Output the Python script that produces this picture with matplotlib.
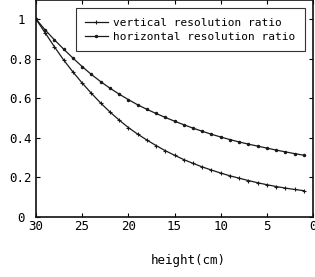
import numpy as np
from matplotlib import pyplot as plt

# heights (cm)
height = list(range(30, 0, -1))

vertical_ratio = [1.000, 0.930, 0.860, 0.793, 0.733, 0.677, 0.625, 0.576, 0.531, 0.490,
                  0.452, 0.419, 0.389, 0.361, 0.335, 0.312, 0.290, 0.271, 0.253, 0.237,
                  0.222, 0.208, 0.196, 0.184, 0.173, 0.163, 0.154, 0.146, 0.139, 0.133]

horizontal_ratio = [1.000, 0.945, 0.895, 0.848, 0.803, 0.760, 0.720, 0.684, 0.651, 0.621,
                    0.593, 0.567, 0.544, 0.523, 0.503, 0.484, 0.466, 0.449, 0.433, 0.418,
                    0.404, 0.391, 0.379, 0.368, 0.358, 0.348, 0.338, 0.329, 0.320, 0.312]

x_ticks = [30, 25, 20, 15, 10, 5, 0]
y_ticks = [0, 0.2, 0.4, 0.6, 0.8, 1]
y_labels = ["0", "0.2", "0.4", "0.6", "0.8", "1"]

plt.rcParams['font.family'] = ['DejaVu Sans Mono']

fig = plt.figure(figsize=(3.15, 2.77), dpi=100)
ax = fig.add_axes([0.114, 0.2166, 0.88, 0.7834])

ax.plot(height, vertical_ratio, color='#1a1a1a', linewidth=0.9,
        marker='+', markersize=3.5, markeredgewidth=0.8,
        label='vertical resolution ratio')
ax.plot(height, horizontal_ratio, color='#1a1a1a', linewidth=0.9,
        marker='.', markersize=3,
        label='horizontal resolution ratio')

ax.set_xlim(30, 0)
ax.set_ylim(0, 1.096)
ax.set_xticks(x_ticks)
ax.set_xticklabels([str(t) for t in x_ticks], fontsize=9)
ax.set_yticks(y_ticks)
ax.set_yticklabels(y_labels, fontsize=9, ha='center')

ax.tick_params(direction='in', length=3, width=0.8, top=True, right=True)
ax.tick_params(axis='x', pad=2)
ax.tick_params(axis='y', pad=10.8)
for spine in ax.spines.values():
    spine.set_linewidth(1.2)
    spine.set_color('#111111')

ax.set_xlabel('height(cm)', fontsize=9)
ax.xaxis.set_label_coords(0.55, -0.17)

leg = ax.legend(loc='upper right', fontsize=8, frameon=True, fancybox=False,
                edgecolor='#333333', framealpha=1, handlelength=2.0,
                handletextpad=0.5, borderaxespad=0.75, labelspacing=0.35,
                borderpad=0.85)
leg.get_frame().set_linewidth(0.8)

fig.savefig('out.png', dpi=100)
